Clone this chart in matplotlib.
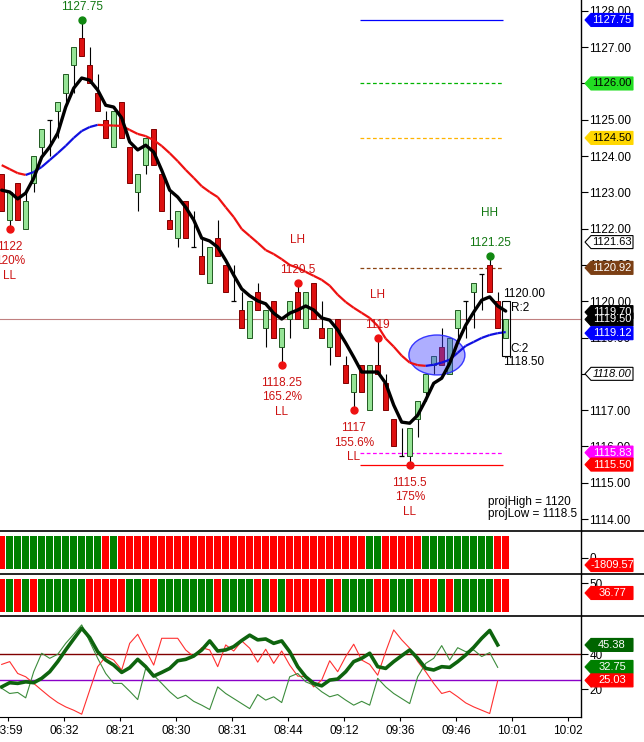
import matplotlib
matplotlib.use("Agg")
import matplotlib.pyplot as plt
from matplotlib.patches import Ellipse, Polygon, Rectangle
from matplotlib.lines import Line2D
from matplotlib.collections import LineCollection
import numpy as np

plt.rcParams['font.family'] = ['Liberation Sans', 'DejaVu Sans']

W, H = 644, 742

# ---- price bars (one per bar, oldest first) ----
opens = [1123.5, 1122.25, 1123.25, 1122.0, 1123.25, 1124.25, 1125.0, 1125.25, 1125.75, 1126.5,
         1127.25, 1126.5, 1125.75, 1125.0, 1124.25, 1125.5, 1124.25, 1123.0, 1123.75, 1124.75,
         1123.5, 1122.25, 1121.75, 1122.75, 1121.5, 1121.25, 1120.5, 1121.75, 1121.0, 1120.0,
         1119.75, 1119.0, 1120.25, 1119.25, 1120.0, 1118.75, 1119.5, 1120.25, 1119.25, 1120.5,
         1119.25, 1118.75, 1119.5, 1118.25, 1117.5, 1118.25, 1117.0, 1118.25, 1117.75, 1116.75,
         1115.75, 1115.75, 1116.75, 1117.5, 1118.25, 1118.75, 1118.0, 1119.25, 1120.0, 1120.25,
         1120.75, 1121.0, 1120.0, 1119.0]
highs = [1123.5, 1123.0, 1123.25, 1123.0, 1124.0, 1124.75, 1125.0, 1125.5, 1126.25, 1127.0,
         1127.75, 1127.0, 1126.25, 1125.25, 1125.25, 1125.5, 1124.25, 1123.5, 1124.5, 1124.75,
         1123.5, 1123.0, 1122.5, 1122.75, 1122.5, 1121.75, 1121.5, 1122.25, 1121.0, 1121.0,
         1120.25, 1120.0, 1120.5, 1119.75, 1120.0, 1119.25, 1120.0, 1120.5, 1120.25, 1120.5,
         1120.0, 1119.25, 1119.5, 1118.5, 1118.0, 1118.25, 1118.25, 1119.0, 1118.0, 1116.75,
         1116.5, 1116.5, 1117.25, 1118.0, 1118.5, 1119.25, 1119.0, 1119.75, 1120.0, 1120.5,
         1120.75, 1121.25, 1120.25, 1119.5]
lows = [1122.5, 1122.0, 1122.25, 1122.0, 1123.0, 1124.0, 1124.0, 1124.5, 1125.5, 1125.75,
        1126.75, 1126.0, 1125.25, 1124.5, 1124.25, 1124.5, 1123.25, 1122.5, 1123.5, 1123.75,
        1122.5, 1122.0, 1121.5, 1121.75, 1121.5, 1120.75, 1120.5, 1121.25, 1120.25, 1120.0,
        1119.25, 1119.0, 1119.75, 1118.75, 1119.0, 1118.25, 1119.0, 1119.5, 1119.25, 1119.5,
        1119.0, 1118.25, 1118.5, 1117.75, 1117.0, 1117.5, 1117.0, 1118.0, 1117.0, 1116.0,
        1115.75, 1115.5, 1116.25, 1117.25, 1118.0, 1118.25, 1118.0, 1119.0, 1119.0, 1119.25,
        1119.75, 1120.25, 1119.25, 1119.0]
closes = [1122.5, 1123.0, 1122.25, 1122.75, 1124.0, 1124.75, 1125.0, 1125.5, 1126.25, 1127.0,
          1126.75, 1126.0, 1125.25, 1124.5, 1125.25, 1124.5, 1123.25, 1123.5, 1124.5, 1123.75,
          1122.5, 1122.0, 1122.5, 1121.75, 1121.5, 1120.75, 1121.5, 1121.25, 1120.25, 1120.0,
          1119.25, 1120.0, 1119.75, 1119.75, 1119.0, 1119.25, 1120.0, 1119.5, 1120.25, 1119.5,
          1119.0, 1119.25, 1118.5, 1117.75, 1118.0, 1117.5, 1118.25, 1118.0, 1117.0, 1116.0,
          1115.75, 1116.5, 1117.25, 1118.0, 1118.5, 1118.25, 1119.0, 1119.75, 1120.0, 1120.5,
          1120.75, 1120.25, 1119.25, 1119.5]

# moving averages
fast_ma = [1123.06, 1123.01, 1122.82, 1122.98, 1123.39, 1123.97, 1124.25, 1124.63, 1125.35, 1125.87,
           1126.15, 1126.09, 1125.82, 1125.40, 1125.35, 1125.05, 1124.39, 1124.17, 1124.30, 1124.11,
           1123.61, 1123.06, 1122.87, 1122.59, 1122.24, 1121.74, 1121.66, 1121.49, 1121.13, 1120.72,
           1120.34, 1120.15, 1120.01, 1119.93, 1119.67, 1119.51, 1119.67, 1119.76, 1119.87, 1119.76,
           1119.54, 1119.48, 1119.21, 1118.85, 1118.46, 1118.05, 1118.05, 1118.05, 1117.74, 1117.14,
           1116.67, 1116.64, 1116.86, 1117.28, 1117.74, 1117.88, 1118.29, 1118.87, 1119.34, 1119.70,
           1120.03, 1120.12, 1119.87, 1119.73]
slow_ma = [1123.75, 1123.64, 1123.53, 1123.48, 1123.56, 1123.70, 1123.89, 1124.08, 1124.28, 1124.50,
           1124.69, 1124.80, 1124.86, 1124.85, 1124.84, 1124.83, 1124.72, 1124.61, 1124.55, 1124.44,
           1124.28, 1124.08, 1123.86, 1123.62, 1123.40, 1123.17, 1123.01, 1122.87, 1122.59, 1122.32,
           1121.99, 1121.80, 1121.61, 1121.41, 1121.30, 1121.16, 1121.00, 1120.92, 1120.81, 1120.70,
           1120.59, 1120.43, 1120.18, 1119.98, 1119.82, 1119.68, 1119.54, 1119.32, 1118.97, 1118.75,
           1118.50, 1118.31, 1118.24, 1118.22, 1118.25, 1118.31, 1118.39, 1118.58, 1118.77, 1118.88,
           1118.99, 1119.07, 1119.12, 1119.15]

# two colour-state indicator panels (G up / R down)
state1 = ("R" + "GGGGGGGGGGGG" + "R" + "G" + "RRRRRRRRRRRRRRRRRRRRRRRRRRRRRRR"
          + "GG" + "RRRRR" + "GGGGGGGGG" + "RR")
state2 = ("RGRGR" + "GGGGGG" + "RRRRR" + "GG" + "RR" + "GGGGGGG" + "R" + "GGGG" + "RGRG"
          + "RRRRR" + "G" + "R" + "GGGG" + "RR" + "GGG" + "RRR" + "G" + "R" + "GGGGG" + "RR")

# oscillator (thick = adx, thin green = +di, thin red = -di)
adx = [21.3, 23.7, 23.3, 24.2, 23.7, 26.2, 30.0, 35.8, 42.5, 48.8,
       55.0, 49.6, 41.5, 36.7, 33.8, 29.6, 32.3, 37.1, 32.9, 27.5,
       29.6, 31.9, 36.3, 37.1, 39.0, 42.5, 47.7, 41.9, 42.5, 44.4,
       47.9, 51.0, 48.3, 48.8, 46.3, 47.7, 41.5, 32.9, 27.1, 23.3,
       21.9, 25.2, 25.8, 30.0, 35.8, 37.7, 40.6, 32.9, 31.9, 35.8,
       39.2, 42.5, 37.7, 31.9, 31.0, 32.9, 32.5, 35.8, 39.6, 44.0,
       49.2, 53.7, 45.4]
plus_di = [20.5, 17.5, 18.1, 15.0, 30.0, 40.6, 37.7, 40.0, 46.3, 51.5,
           56.9, 47.3, 37.7, 29.0, 23.3, 23.3, 18.8, 14.0, 31.9, 28.0,
           23.3, 18.5, 14.6, 16.5, 13.0, 10.8, 8.3, 21.3, 17.5, 14.6,
           11.7, 8.8, 16.9, 13.7, 15.6, 12.3, 27.1, 29.0, 24.2, 22.3,
           18.5, 15.6, 16.9, 13.7, 10.8, 13.0, 10.8, 26.2, 21.3, 17.5,
           14.6, 11.7, 27.1, 34.8, 37.7, 45.0, 36.7, 43.8, 41.5, 42.5,
           38.7, 41.0, 32.5]
minus_di = [34.2, 35.8, 29.0, 27.1, 23.3, 19.4, 15.6, 12.3, 9.8, 7.9,
            5.6, 19.4, 32.9, 38.7, 36.7, 31.0, 46.3, 51.5, 42.5, 33.8,
            49.2, 49.2, 49.2, 42.5, 38.7, 43.8, 42.5, 32.9, 45.4, 41.9,
            47.7, 43.5, 35.5, 42.9, 34.8, 41.9, 33.8, 27.5, 27.1, 21.3,
            25.2, 36.3, 30.0, 38.7, 45.8, 36.7, 34.2, 28.0, 41.5, 54.0,
            48.3, 43.5, 35.8, 30.0, 23.3, 17.5, 18.8, 15.6, 12.1, 9.8,
            7.9, 6.0, 24.8]

time_labels = ["03:59", "06:32", "08:21", "08:30", "08:31", "08:44",
               "09:12", "09:36", "09:46", "10:01", "10:02"]
time_pos = [0.8, 7.8, 14.8, 21.8, 28.8, 35.8, 42.8, 49.8, 56.8, 63.8, 70.8]

# swing points: bar, price, texts, colour, above?
swings = [(10, 1127.75, ["1127.75"], "green", True),
          (1, 1122.0, ["1122", "120%", "LL"], "red", False),
          (37, 1120.5, ["1120.5", "LH"], "red", True),
          (35, 1118.25, ["1118.25", "165.2%", "LL"], "red", False),
          (47, 1119.0, ["1119", "LH"], "red", True),
          (44, 1117.0, ["1117", "155.6%", "LL"], "red", False),
          (51, 1115.5, ["1115.5", "175%", "LL"], "red", False),
          (61, 1121.25, ["1121.25", "HH"], "green", True)]

# projection levels drawn on the right side
levels = [(1127.75, "#0000FF", "-"), (1126.00, "#00B400", (0, (3, 2))),
          (1124.50, "#FFB400", (0, (3, 2))), (1120.92, "#8B4513", (0, (3, 2))),
          (1115.83, "#FF00FF", (0, (3, 2))), (1115.50, "#FF0000", "-")]

price_tags = [(1127.75, "#0000FF", "white", "1127.75"),
              (1126.00, "#22DD22", "black", "1126.00"),
              (1124.50, "#FFD700", "black", "1124.50"),
              (1121.63, "white", "black", "1121.63"),
              (1120.92, "#7B3F14", "white", "1120.92"),
              (1119.70, "black", "white", "1119.70"),
              (1119.50, "black", "white", "1119.50"),
              (1119.12, "#0000FF", "white", "1119.12"),
              (1118.00, "white", "black", "1118.00"),
              (1115.83, "#FF00FF", "white", "1115.83"),
              (1115.50, "#FF0000", "white", "1115.50")]
osc_tags = [(45.38, "#006400", "white", "45.38"),
            (32.75, "#008000", "white", "32.75"),
            (25.03, "#FF0000", "white", "25.03")]

n = len(closes)
x = np.arange(n)

fig = plt.figure(figsize=(W / 100, H / 100), dpi=100)


def fy(px):
    return 1 - px / H


XMIN, XMAX = -1.7 / 8, (581 - 1.7) / 8
AR = 581 / W
ax = fig.add_axes([0, fy(531), AR, fy(0) - fy(531)])
ax1 = fig.add_axes([0, fy(573.5), AR, fy(531) - fy(573.5)])
ax2 = fig.add_axes([0, fy(616), AR, fy(573.5) - fy(616)])
ax3 = fig.add_axes([0, fy(717), AR, fy(616) - fy(717)])

for a in (ax, ax1, ax2, ax3):
    a.set_xlim(XMIN, XMAX)
    for s in ("left", "top", "bottom"):
        a.spines[s].set_visible(False)
    a.spines["right"].set_linewidth(1.0)
    a.yaxis.tick_right()
    a.tick_params(axis="y", direction="out", length=5, width=0.8, pad=1, labelsize=8.5)
    a.tick_params(axis="x", bottom=False, labelbottom=False)

# ---- main price panel ----
ax.set_ylim(1113.67, 1128.30)
ax.set_yticks(np.arange(1114, 1129, 1))
ax.set_yticklabels(["%.2f" % v for v in np.arange(1114, 1129, 1)])

ax.axhline(1119.5, color="#C08080", lw=0.8, zorder=1)

ax.vlines(x, lows, highs, color="black", lw=0.8, zorder=2)
for i in range(n):
    o, c = opens[i], closes[i]
    if o == c:
        ax.hlines(o, i - 0.3, i + 0.3, color="black", lw=0.9, zorder=3)
        continue
    if c > o:
        fc, ec = "#96E496", "#205A20"
    else:
        fc, ec = "#DD1010", "#800000"
    ax.add_patch(Rectangle((i - 0.3, min(o, c)), 0.6, abs(c - o), facecolor=fc,
                           edgecolor=ec, lw=0.7, zorder=3))

ax.add_patch(Ellipse((54.4, 1118.52), 7.0, 1.10, facecolor=(0.25, 0.25, 1.0, 0.42),
                     edgecolor=(0.15, 0.15, 1.0, 0.9), lw=1.0, zorder=4))

segs = [[(i, slow_ma[i]), (i + 1, slow_ma[i + 1])] for i in range(n - 1)]
seg_cols = ["#1010E0" if slow_ma[i + 1] > slow_ma[i] else "#EE1111" for i in range(n - 1)]
ax.add_collection(LineCollection(segs, colors=seg_cols, lw=1.6, zorder=5))
ax.plot(x, fast_ma, color="black", lw=2.4, zorder=6, solid_capstyle="round")

for lv, col, ls in levels:
    ax.hlines(lv, 44.8, 62.7, color=col, lw=0.9, linestyle=ls, zorder=2)

for i, p, texts, col, above in swings:
    tcol = "#CC1111" if col == "red" else "#117711"
    dcol = "#EE1111" if col == "red" else "#118811"
    ax.plot(i, p, "o", color=dcol, ms=5, zorder=7)
    offs = [13, 43] if above else [-18, -32.5, -47]
    for t, off in zip(texts, offs):
        ax.annotate(t, (i, p), xytext=(0, off), textcoords="offset pixels",
                    ha="center", va="center", color=tcol, fontsize=8.5, zorder=8)

# projection box
ax.add_patch(Rectangle((62.5, 1118.5), 1.0, 1.5, fill=False, edgecolor="black", lw=0.8, zorder=7))
box_txt = [(62.66, 1120.0, 7, "1120.00"), (63.6, 1120.0, -6.5, "R:2"),
           (63.6, 1118.5, 7, "C:2"), (62.66, 1118.5, -6, "1118.50")]
for bx, by, off, t in box_txt:
    ax.annotate(t, (bx, by), xytext=(0, off), textcoords="offset pixels",
                ha="left", va="center", fontsize=8.5, color="black", zorder=8)

ax.text(488 / 581, (531 - 502) / 531, "projHigh = 1120", transform=ax.transAxes,
        fontsize=8.5, va="center", ha="left")
ax.text(488 / 581, (531 - 514) / 531, "projLow = 1118.5", transform=ax.transAxes,
        fontsize=8.5, va="center", ha="left")

# ---- colour-state panels ----
for a, st in ((ax1, state1), (ax2, state2)):
    a.set_ylim(0, 1)
    cols = ["#008000" if s == "G" else "#FF0000" for s in st]
    a.bar(x, 0.78, bottom=0.1, width=0.86, color=cols, linewidth=0)
ax1.set_yticks([0.365])
ax1.set_yticklabels(["0"])
ax2.set_yticks([0.776])
ax2.set_yticklabels(["50"])

# ---- oscillator ----
ax3.set_ylim(4, 62)
ax3.spines["bottom"].set_visible(True)
ax3.set_yticks([20, 40])
ax3.set_yticklabels(["20", "40"])
ax3.axhline(40, color="#800000", lw=1.0)
ax3.axhline(25, color="#8A00C8", lw=1.0)
xo = np.arange(len(adx))
ax3.plot(xo, minus_di, color="#FF3030", lw=0.8)
ax3.plot(xo, plus_di, color="#3C8C3C", lw=0.8)
ax3.plot(xo, adx, color="#0E640E", lw=2.6)
ax3.set_xticks(time_pos)
ax3.set_xticklabels(time_labels)
ax3.tick_params(axis="x", bottom=True, labelbottom=True, length=3, width=0.8,
                pad=3, labelsize=8.5)

# separators across the full width
for ypx in (531, 573.5, 616):
    fig.add_artist(Line2D([0, 1], [fy(ypx)] * 2, transform=fig.transFigure,
                          color="black", lw=1.2))


def tag(ypx, text, fc, tc, ec=None, style="normal"):
    if ec is None:
        ec = fc
    xs = np.array([585, 591, 633, 633, 591]) / W
    ys = np.array([fy(ypx), fy(ypx - 6.5), fy(ypx - 6.5), fy(ypx + 6.5), fy(ypx + 6.5)])
    fig.add_artist(Polygon(np.column_stack([xs, ys]), closed=True, transform=fig.transFigure,
                           facecolor=fc, edgecolor=ec, lw=0.8, zorder=5))
    fig.text(612 / W, fy(ypx), text, ha="center", va="center", color=tc,
             fontsize=8, zorder=6, fontstyle=style)


def data_px(a, val):
    return H - a.transData.transform((0, val))[1]


for val, fc, tc, t in price_tags:
    ec = "black" if fc == "white" else None
    tag(data_px(ax, val), t, fc, tc, ec, "italic" if t == "1118.00" else "normal")
tag(565, "-1809.57", "#FF0000", "white")
tag(593, "36.77", "#FF0000", "white")
for val, fc, tc, t in osc_tags:
    tag(data_px(ax3, val), t, fc, tc)

fig.savefig("out.png", dpi=100)
